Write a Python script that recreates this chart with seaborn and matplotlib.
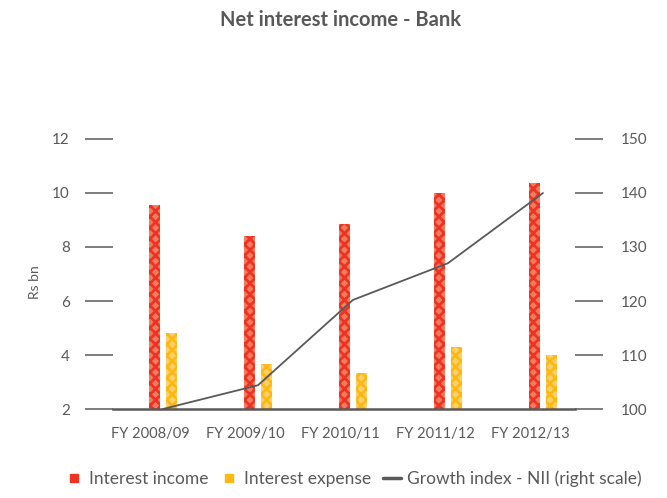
import numpy as np
import pandas as pd
import matplotlib.pyplot as plt
import seaborn as sns
from matplotlib.lines import Line2D

years = ['FY 2008/09', 'FY 2009/10', 'FY 2010/11', 'FY 2011/12', 'FY 2012/13']
interest_income = [9.55, 8.40, 8.85, 10.0, 10.38]
interest_expense = [4.8, 3.65, 3.35, 4.28, 4.0]
growth_nii = [100, 104.4, 120.2, 127.0, 140]

grey = '#595959'
red = '#EE3325'
red_light = '#F47C5C'
orange = '#FDB913'
orange_light = '#FFCF6B'

sns.set_theme(style='white')
plt.rcParams['font.family'] = ['Lato', 'DejaVu Sans']
plt.rcParams['hatch.linewidth'] = 2.0
plt.rcParams['text.color'] = grey

df = pd.DataFrame({
    'year': years * 2,
    'value': interest_income + interest_expense,
    'series': ['Interest income'] * 5 + ['Interest expense'] * 5,
})

fig = plt.figure(figsize=(6.67, 4.98), dpi=100)
ax = fig.add_axes([0.1694, 0.1787, 0.6926, 0.5422])

sns.barplot(data=df, x='year', y='value', hue='series', ax=ax,
            width=0.358, gap=0.35, legend=False, saturation=1)

# diamond pattern on the bars
fills = [(red_light, red), (orange_light, orange)]
for cont, (fc, hc) in zip(ax.containers, fills):
    for bar in cont:
        bar.set_facecolor(fc)
        bar.set_edgecolor(hc)
        bar.set_hatch('xxx')
        bar.set_linewidth(0)

ax.set_xlim(-0.526, 4.337)
ax.set_ylim(2, 12)
ax.set_yticks([2, 4, 6, 8, 10, 12])
ax.set_xticks(np.arange(5) - 0.137)
ax.set_xticklabels(years)
ax.set_xlabel('')
ax.set_ylabel('Rs bn', fontsize=10, color=grey)
ax.yaxis.set_label_coords(-0.155, 0.47)

for s in ['top', 'right', 'left']:
    ax.spines[s].set_visible(False)
ax.spines['bottom'].set_color(grey)
ax.spines['bottom'].set_linewidth(1.8)

ax.tick_params(axis='x', length=0, pad=13, labelsize=10.5, labelcolor=grey)
ax.tick_params(axis='y', left=True, length=20, width=1.1, color=grey,
               pad=11, labelsize=11, labelcolor=grey)

ax2 = ax.twinx()
sns.lineplot(x=np.arange(5), y=growth_nii, ax=ax2, color=grey, linewidth=1.3)
ax2.set_ylim(100, 150)
ax2.set_yticks([100, 110, 120, 130, 140, 150])
for s in ['top', 'right', 'left', 'bottom']:
    ax2.spines[s].set_visible(False)
ax2.tick_params(axis='y', right=True, length=20, width=1.1, color=grey,
                pad=13, labelsize=11, labelcolor=grey)

fig.suptitle('Net interest income - Bank', x=0.51, y=0.98, fontsize=14.5,
             fontweight='bold', color=grey)

handles = [
    Line2D([], [], marker='s', linestyle='', markersize=6, color=red),
    Line2D([], [], marker='s', linestyle='', markersize=6, color=orange),
    Line2D([], [], color=grey, linewidth=2.5),
]
labels = ['Interest income', 'Interest expense', 'Growth index - NII (right scale)']
fig.legend(handles, labels, loc='lower center', bbox_to_anchor=(0.53, -0.01),
           ncol=3, frameon=False, fontsize=12.5, handlelength=1.0,
           handletextpad=0.35, columnspacing=0.7, labelcolor=grey)

fig.savefig('out.png', dpi=100)
